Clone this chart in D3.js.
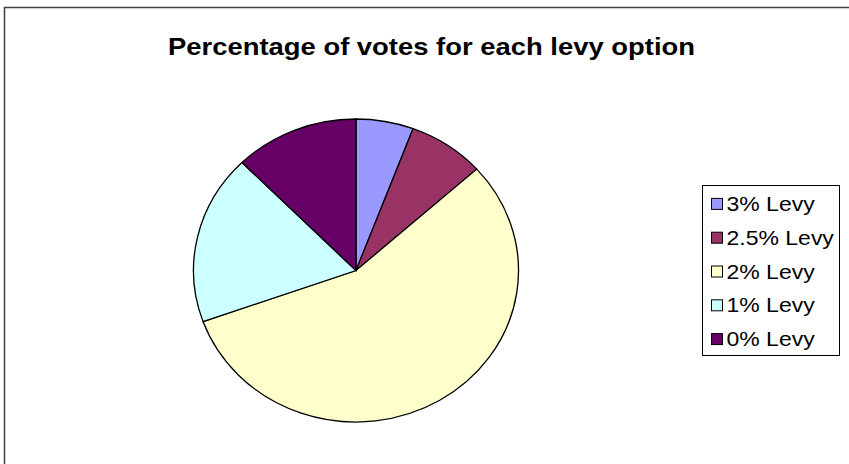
<!DOCTYPE html>
<html><head><meta charset="utf-8">
<script src="https://cdn.jsdelivr.net/npm/d3@7"></script>
<style>body{margin:0;background:#fff;}svg{display:block;}</style>
</head><body>
<svg id="c" width="849" height="464"></svg>
<script>
const categories = ["3% Levy", "2.5% Levy", "2% Levy", "1% Levy", "0% Levy"];
const votes = [6, 8, 59, 19, 13];
const colors = ["#9999FF", "#993366", "#FFFFCC", "#CCFFFF", "#660066"];
const title = "Percentage of votes for each levy option";

const svg = d3.select("#c");
svg.append("rect").attr("x", 4.5).attr("y", 7.5).attr("width", 900).attr("height", 600)
  .attr("fill", "#fff").attr("stroke", "#404040").attr("stroke-width", 1.5);

svg.append("text").attr("x", 431.5).attr("y", 55).attr("text-anchor", "middle")
  .attr("font-family", "Liberation Sans, Arial, sans-serif").attr("font-weight", "bold")
  .attr("font-size", "24px").attr("textLength", 527).attr("lengthAdjust", "spacingAndGlyphs")
  .attr("fill", "#000").text(title);

const rx = 162.5, ry = 151.5, cx = 356, cy = 270.5;
const pie = d3.pie().sort(null).value(d => d)(votes);
const arc = d3.arc().innerRadius(0).outerRadius(rx);
const g = svg.append("g").attr("transform", `translate(${cx},${cy}) scale(1,${ry/rx})`);
g.selectAll("path").data(pie).join("path")
  .attr("d", arc).attr("fill", (d, i) => colors[i])
  .attr("stroke", "#000").attr("stroke-width", 1.3).attr("vector-effect", "non-scaling-stroke");

const lg = svg.append("g");
lg.append("rect").attr("x", 702.5).attr("y", 185.5).attr("width", 137).attr("height", 170)
  .attr("fill", "#fff").attr("stroke", "#000").attr("stroke-width", 1);
const row = d3.scaleBand().domain(categories).range([187, 356]);
categories.forEach((c, i) => {
  const y = row(c) + row.bandwidth() / 2;
  lg.append("rect").attr("x", 711.5).attr("y", y - 5.5).attr("width", 11).attr("height", 11)
    .attr("fill", colors[i]).attr("stroke", "#000").attr("stroke-width", 1);
  lg.append("text").attr("transform", `translate(726.5,${y + 7}) scale(1.15,1)`)
    .attr("font-family", "Liberation Sans, Arial, sans-serif").attr("font-size", "20px")
    .attr("fill", "#000").text(c);
});
</script>
</body></html>
